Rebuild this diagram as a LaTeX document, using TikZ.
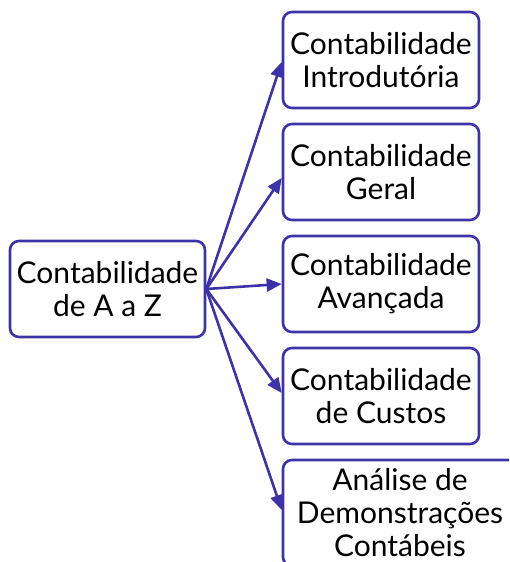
\documentclass[tikz,border=0pt]{standalone}
\usepackage{fontspec}
\setmainfont{Lato}
\usetikzlibrary{arrows.meta}
\definecolor{boxblue}{RGB}{62,50,168}

\begin{document}
\begin{tikzpicture}[x=1pt,y=-1pt,
  caixa/.style={draw=boxblue, line width=2.6pt, rounded corners=9pt, align=center,
    inner sep=0pt, font=\fontsize{30}{33}\selectfont},
  seta/.style={draw=boxblue, line width=2.6pt, -{Triangle[length=15pt,width=13pt]}}]
\useasboundingbox (0,0) rectangle (509,562);
\clip (0,0) rectangle (509,562);
\node[caixa, minimum width=195pt, minimum height=96pt] (main) at (107.5,289) {Contabilidade\\de A a Z};
\node[caixa, minimum width=196pt, minimum height=96pt] (intro) at (381,60) {Contabilidade\\Introdutória};
\node[caixa, minimum width=196pt, minimum height=96pt] (geral) at (381,172) {Contabilidade\\Geral};
\node[caixa, minimum width=196pt, minimum height=96pt] (avanc) at (381,284) {Contabilidade\\Avançada};
\node[caixa, minimum width=196pt, minimum height=96pt] (custos) at (381,396) {Contabilidade\\de Custos};
\node[caixa, minimum width=234pt, minimum height=106pt] (analise) at (400,513) {Análise de\\Demonstrações\\Contábeis};
\draw[seta] (main.east) -- ([yshift=-2pt]intro.west);
\draw[seta] (main.east) -- ([yshift=-6pt]geral.west);
\draw[seta] (main.east) -- (avanc.west);
\draw[seta] (main.east) -- ([yshift=3pt]custos.west);
\draw[seta] (main.east) -- ([yshift=3pt]analise.west);
\end{tikzpicture}
\end{document}
